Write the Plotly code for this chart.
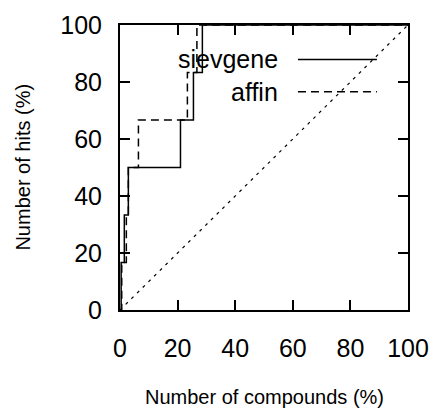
import plotly.graph_objects as go

# Data
hits_pct = [0, 16.7, 33.3, 50, 66.7, 83.3, 100, 100]
sievgene_x = [0, 0.4, 1.5, 2.9, 21.0, 25.5, 28.6, 100]
affin_x = [0, 0.6, 2.2, 2.9, 6.4, 23.4, 26.7, 100]
random_x = [0, 100]
random_y = [0, 100]
ticks = [0, 20, 40, 60, 80, 100]
tick_labels = ["0", "20", "40", "60", "80", "100"]

FONT = "Liberation Sans, Arial, Helvetica, sans-serif"

fig = go.Figure()
fig.add_trace(go.Scatter(x=random_x, y=random_y, mode="lines",
                         line=dict(color="black", width=1.2, dash="3px,5px"),
                         showlegend=False, hoverinfo="skip"))
fig.add_trace(go.Scatter(x=affin_x, y=hits_pct, mode="lines", line_shape="hv",
                         line=dict(color="black", width=1.5, dash="8px,5px"),
                         name="affin", showlegend=False))
fig.add_trace(go.Scatter(x=sievgene_x, y=hits_pct, mode="lines", line_shape="hv",
                         line=dict(color="black", width=1.5),
                         name="sievgene", showlegend=False))

axis_common = dict(
    range=[0, 100], tickvals=ticks, ticktext=tick_labels,
    ticks="inside", ticklen=10, tickwidth=1.5, tickcolor="black",
    mirror="allticks", showline=True, linewidth=2, linecolor="black",
    showgrid=False, zeroline=False, automargin=False,
    tickfont=dict(family=FONT, size=25, color="black"),
)

fig.update_layout(
    width=434, height=408,
    margin=dict(l=120, r=26, t=25, b=98),
    paper_bgcolor="white", plot_bgcolor="white",
    font=dict(family=FONT, color="black"),
    xaxis=dict(**axis_common, ticklabelstandoff=15),
    yaxis=dict(**axis_common, ticklabelstandoff=11),
)

# Axis titles
fig.add_annotation(text="Number of compounds (%)", xref="paper", yref="paper",
                   x=0.5, y=-0.305, xanchor="center", yanchor="middle",
                   showarrow=False, font=dict(family=FONT, size=20, color="black"))
fig.add_annotation(text="Number of hits (%)", xref="paper", yref="paper",
                   x=-0.34, y=0.5, xanchor="center", yanchor="middle", textangle=-90,
                   showarrow=False, font=dict(family=FONT, size=20, color="black"))

# gnuplot-style key: text on the left, sample on the right
key_items = [("sievgene", "solid", 0.879), ("affin", "8px,5px", 0.766)]
for label, dash, ky in key_items:
    fig.add_annotation(text=label, xref="paper", yref="paper", x=0.556, y=ky,
                       xanchor="right", yanchor="middle", showarrow=False,
                       font=dict(family=FONT, size=25, color="black"))
    fig.add_shape(type="line", xref="paper", yref="paper", x0=0.618, x1=0.892,
                  y0=ky, y1=ky, line=dict(color="black", width=1.5, dash=dash))

# remove the browser's default 8px body margin so the figure sits at (0, 0)
fig.write_html("out.html",
               config={"displayModeBar": False},
               post_script="document.body.style.margin='0';document.body.style.overflow='hidden';")
